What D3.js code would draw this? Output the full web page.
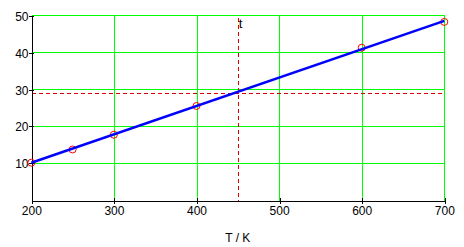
<!DOCTYPE html>
<html><head><meta charset="utf-8">
<script src="https://cdn.jsdelivr.net/npm/d3@7"></script>
<style>body{margin:0;background:#fff}svg{display:block}text{font-family:"Liberation Sans",Arial,sans-serif;}</style>
</head><body>
<svg id="c" width="464" height="247"></svg>
<script>
const temps = [200, 250, 300, 400, 600, 700];
const values = [10.0, 13.6, 17.6, 25.4, 41.2, 48.2];
const fitT = [200, 700];
const fitV = [10.0, 48.5];
const markT = 450;
const markV = 28.9;
const markLabel = "t";
const xTicks = [200, 300, 400, 500, 600, 700];
const yTicks = [10, 20, 30, 40, 50];
const xTitle = "T / K";

const svg = d3.select("#c");
const x = d3.scaleLinear().domain([200, 700]).range([31.3, 444.3]);
const y = d3.scaleLinear().domain([0, 50]).range([199.6, 15.3]);
const px = v => Math.round(x(v)) + 0.5;
const py = v => Math.round(y(v)) + 0.5;

// grid
const g = svg.append("g").attr("shape-rendering", "crispEdges");
g.selectAll(".gx").data(xTicks.slice(1)).join("line")
  .attr("x1", d => px(d)).attr("x2", d => px(d))
  .attr("y1", py(50)).attr("y2", py(0))
  .attr("stroke", "#00ff00").attr("stroke-width", 1);
g.selectAll(".gy").data(yTicks).join("line")
  .attr("x1", px(200)).attr("x2", px(700))
  .attr("y1", d => py(d)).attr("y2", d => py(d))
  .attr("stroke", "#00ff00").attr("stroke-width", 1);

// marker dashed lines
g.append("line").attr("x1", px(200)).attr("x2", x(700) - 2)
  .attr("y1", py(markV)).attr("y2", py(markV))
  .attr("stroke", "#e00000").attr("stroke-dasharray", "4,3");
g.append("line").attr("x1", px(markT)).attr("x2", px(markT))
  .attr("y1", py(50) + 2).attr("y2", py(0))
  .attr("stroke", "#e00000").attr("stroke-dasharray", "4,3");
svg.append("text").attr("x", x(markT) + 1).attr("y", 28)
  .attr("font-size", 13).text(markLabel);

// axes
const xAxis = d3.axisBottom(x).tickValues(xTicks).tickSize(0).tickPadding(0).tickFormat(d3.format("d"));
const xa = svg.append("g").attr("transform", `translate(0,${py(0)})`).call(xAxis);
xa.select(".domain").attr("stroke", "#000").attr("shape-rendering", "crispEdges");
xa.selectAll(".tick line").remove();
xa.selectAll(".tick").append("line").attr("x1", 0.5).attr("x2", 0.5).attr("y1", -3).attr("y2", 3)
  .attr("stroke", "#000").attr("shape-rendering", "crispEdges");
xa.selectAll(".tick text").attr("y", 14).attr("dy", 0).attr("font-size", 12)
  .attr("font-family", "Liberation Sans, Arial, sans-serif").attr("fill", "#000");

const yAxis = d3.axisLeft(y).tickValues(yTicks).tickSize(0).tickPadding(0).tickFormat(d3.format("d"));
const ya = svg.append("g").attr("transform", `translate(${px(200)},0)`).call(yAxis);
ya.select(".domain").attr("stroke", "#000").attr("shape-rendering", "crispEdges");
ya.selectAll(".tick line").remove();
ya.selectAll(".tick").append("line").attr("x1", -3).attr("x2", 2).attr("y1", 0.5).attr("y2", 0.5)
  .attr("stroke", "#000").attr("shape-rendering", "crispEdges");
ya.selectAll(".tick text").attr("x", -3).attr("dy", "0.42em").attr("font-size", 12)
  .attr("font-family", "Liberation Sans, Arial, sans-serif").attr("fill", "#000");

// data circles
svg.selectAll(".pt").data(temps).join("circle")
  .attr("cx", d => x(d)).attr("cy", (d, i) => y(values[i])).attr("r", 3.5)
  .attr("fill", "none").attr("stroke", "#ff0000").attr("stroke-width", 1);

// fit line
const line = d3.line().x(d => x(d[0])).y(d => y(d[1]));
svg.append("path").datum(fitT.map((t, i) => [t, fitV[i]])).attr("d", line)
  .attr("stroke", "#0000ff").attr("stroke-width", 2.5).attr("fill", "none");

svg.append("text").attr("x", x(450)).attr("y", 242).attr("text-anchor", "middle")
  .attr("font-size", 12).text(xTitle);
</script>
</body></html>
